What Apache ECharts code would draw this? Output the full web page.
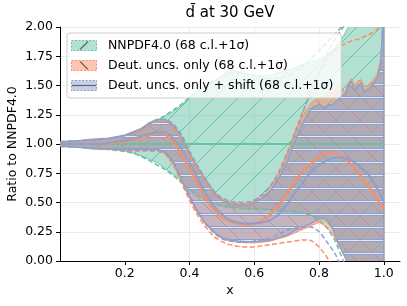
<!DOCTYPE html>
<html><head><meta charset="utf-8">
<script src="https://cdn.jsdelivr.net/npm/echarts@6/dist/echarts.min.js"></script>
<style>html,body{margin:0;padding:0;background:#fff}#c{width:407px;height:306px}</style>
</head><body><div id="c"></div>
<script>
// ---------- data ----------
const X = [0,0.025,0.05,0.075,0.1,0.125,0.15,0.175,0.2,0.225,0.25,0.275,0.3,0.325,0.35,0.375,0.4,0.425,0.45,0.475,0.5,0.525,0.55,0.575,0.6,0.625,0.65,0.675,0.7,0.725,0.75,0.775,0.8,0.825,0.85,0.875,0.9,0.925,0.95,0.975,1.0];

const NNPDF_CV = [1,1,1,1,1,1,1,1,1,1,1,1,1,1,1,1,1,1,1,1,1,1,1,1,1,1,1,1,1,1,1,1,1,1,1,1,1,1,1,1,1];
const DEUT_CV = [1.0,1.0,1.0,1.0,1.0,1.0,1.005,1.01,1.02,1.035,1.05,1.07,1.09,1.08,1.02,0.91,0.79,0.66,0.53,0.44,0.37,0.34,0.32,0.31,0.32,0.35,0.40,0.48,0.57,0.68,0.77,0.83,0.89,0.93,0.92,0.88,0.82,0.74,0.65,0.55,0.44];
const SHIFT_CV = [1.0,1.0,1.0,1.0,1.0,1.0,1.01,1.02,1.03,1.045,1.065,1.085,1.10,1.10,1.05,0.96,0.84,0.71,0.58,0.47,0.40,0.35,0.33,0.32,0.32,0.33,0.35,0.40,0.48,0.58,0.67,0.76,0.82,0.86,0.885,0.88,0.86,0.81,0.75,0.64,0.51];

// NNPDF4.0 68% c.l. band
const NNPDF_HI = [1.02,1.022,1.025,1.03,1.035,1.04,1.045,1.055,1.07,1.09,1.12,1.16,1.20,1.24,1.28,1.33,1.40,1.45,1.50,1.54,1.58,1.64,1.62,1.60,1.59,1.58,1.59,1.61,1.63,1.65,1.68,1.70,1.72,1.76,1.82,1.92,2.05,2.2,2.35,2.5,2.7];
const NNPDF_LO = [0.98,0.978,0.975,0.97,0.965,0.96,0.955,0.95,0.94,0.925,0.90,0.87,0.84,0.79,0.74,0.68,0.62,0.57,0.52,0.49,0.47,0.46,0.455,0.45,0.45,0.445,0.44,0.435,0.43,0.42,0.41,0.39,0.37,0.33,0.25,0.12,-0.05,-0.4,-0.8,-1.2,-1.6];
// NNPDF4.0 1 sigma
const NNPDF_SD_HI = [1.02,1.022,1.025,1.03,1.035,1.04,1.047,1.057,1.07,1.09,1.12,1.16,1.20,1.245,1.29,1.34,1.40,1.45,1.50,1.54,1.57,1.60,1.61,1.60,1.58,1.57,1.56,1.56,1.58,1.62,1.67,1.73,1.80,1.87,1.94,2.02,2.12,2.22,2.35,2.5,2.7];
const NNPDF_SD_LO = [0.98,0.978,0.975,0.97,0.965,0.96,0.953,0.945,0.935,0.92,0.895,0.86,0.82,0.78,0.73,0.67,0.61,0.56,0.52,0.49,0.47,0.46,0.45,0.445,0.44,0.437,0.433,0.43,0.425,0.42,0.41,0.39,0.35,0.28,0.17,0.0,-0.2,-0.45,-0.7,-1.0,-1.3];
// Deut. uncs. only 1 sigma
const DEUT_SD_HI = [1.02,1.022,1.025,1.03,1.035,1.04,1.045,1.055,1.07,1.09,1.12,1.16,1.19,1.19,1.14,1.04,0.91,0.79,0.68,0.59,0.53,0.50,0.49,0.49,0.51,0.56,0.64,0.76,0.92,1.10,1.28,1.45,1.60,1.72,1.80,1.85,1.88,1.90,1.93,1.97,2.05];
const DEUT_SD_LO = [0.98,0.978,0.975,0.97,0.965,0.96,0.955,0.95,0.945,0.94,0.94,0.94,0.935,0.91,0.82,0.67,0.52,0.39,0.29,0.21,0.165,0.14,0.125,0.12,0.12,0.13,0.14,0.15,0.16,0.17,0.18,0.175,0.12,0.03,-0.1,-0.3,-0.5,-0.8,-1.1,-1.4,-1.7];
// Deut. uncs. only + shift 1 sigma
const SHIFT_SD_HI = [1.02,1.022,1.025,1.03,1.035,1.04,1.047,1.057,1.075,1.10,1.13,1.17,1.21,1.21,1.17,1.08,0.94,0.81,0.70,0.60,0.54,0.51,0.50,0.50,0.52,0.57,0.64,0.75,0.90,1.08,1.27,1.45,1.62,1.77,1.90,2.0,2.1,2.2,2.3,2.4,2.5];
const SHIFT_SD_LO = [0.98,0.978,0.975,0.97,0.965,0.96,0.955,0.952,0.95,0.948,0.947,0.946,0.945,0.93,0.84,0.70,0.56,0.43,0.32,0.24,0.19,0.17,0.16,0.16,0.17,0.18,0.20,0.23,0.26,0.28,0.29,0.29,0.25,0.16,0.06,-0.1,-0.3,-0.6,-0.9,-1.2,-1.5];

// 68% c.l. bands of the deuteron fits
const BAND_HI_X = [0,0.05,0.1,0.15,0.2,0.25,0.275,0.3,0.325,0.35,0.375,0.4,0.425,0.45,0.475,0.5,0.525,0.55,0.575,0.6,0.625,0.65,0.675,0.7,0.725,0.75,0.775,0.8,0.81,0.82,0.83,0.84,0.85,0.86,0.87,0.88,0.89,0.9,0.91,0.92,0.93,0.94,0.95,0.96,0.97,0.98,0.99,0.995,1.0];
const DEUT_HI = [1.02,1.025,1.035,1.045,1.07,1.12,1.16,1.19,1.19,1.14,1.03,0.89,0.77,0.66,0.57,0.51,0.48,0.47,0.47,0.49,0.54,0.61,0.73,0.89,1.08,1.24,1.35,1.40,1.38,1.42,1.45,1.43,1.47,1.52,1.48,1.44,1.52,1.56,1.50,1.54,1.55,1.49,1.50,1.53,1.56,1.60,1.72,1.95,2.4];
const SHIFT_HI = [1.02,1.025,1.04,1.05,1.075,1.13,1.18,1.21,1.21,1.16,1.06,0.92,0.80,0.69,0.59,0.52,0.49,0.48,0.48,0.50,0.54,0.60,0.70,0.84,1.02,1.18,1.30,1.34,1.32,1.31,1.34,1.33,1.36,1.38,1.42,1.41,1.50,1.53,1.46,1.50,1.52,1.44,1.46,1.48,1.52,1.57,1.66,1.9,2.4];
const BAND_LO_X = [0,0.05,0.1,0.15,0.2,0.25,0.3,0.325,0.35,0.375,0.4,0.425,0.45,0.475,0.5,0.525,0.55,0.575,0.6,0.625,0.65,0.675,0.7,0.725,0.75,0.775,0.8,0.82,0.84,0.86,0.88,0.9,0.92,0.95,1.0];
const DEUT_LO = [0.98,0.975,0.96,0.955,0.95,0.95,0.95,0.92,0.83,0.69,0.54,0.41,0.31,0.24,0.19,0.17,0.16,0.155,0.155,0.16,0.17,0.19,0.21,0.24,0.27,0.30,0.33,0.30,0.24,0.14,0.03,-0.1,-0.4,-0.8,-1.5];
const SHIFT_LO = [0.98,0.975,0.96,0.955,0.955,0.955,0.955,0.93,0.85,0.70,0.55,0.42,0.32,0.25,0.20,0.18,0.17,0.165,0.165,0.17,0.18,0.20,0.22,0.26,0.29,0.32,0.36,0.37,0.29,0.15,0.04,-0.1,-0.4,-0.8,-1.5];

const X_TICKS = [0.2,0.4,0.6,0.8,1.0];
const NAMES = ['NNPDF4.0 (68 c.l.+1σ)', 'Deut. uncs. only (68 c.l.+1σ)', 'Deut. uncs. only + shift (68 c.l.+1σ)'];
const TITLE = 'd\u0304 at 30 GeV';

// ---------- styling helpers ----------
const G = '#66c2a5', O = '#fc8d62', B = '#8da0cb';
const G_A = 'rgba(102,194,165,0.5)', O_A = 'rgba(252,141,98,0.5)', B_A = 'rgba(141,160,203,0.5)';
const FONT = 'DejaVu Sans';
const FS = 12.5;

function hatchCanvas(kind, bg) {
  const s = kind === '-' ? 13 : 24;
  const c = document.createElement('canvas'); c.width = s; c.height = s;
  const g = c.getContext('2d');
  g.fillStyle = bg; g.fillRect(0, 0, s, s);
  g.lineCap = 'butt';
  if (kind === '/') {
    g.strokeStyle = G; g.lineWidth = 1;
    g.beginPath();
    g.moveTo(-2, s + 2); g.lineTo(s + 2, -2);
    g.moveTo(-2, 2); g.lineTo(2, -2);
    g.moveTo(s - 2, s + 2); g.lineTo(s + 2, s - 2);
    g.stroke();
  } else if (kind === '\\') {
    g.strokeStyle = 'rgba(240,120,90,0.9)'; g.lineWidth = 1;
    g.beginPath();
    g.moveTo(-2, -2); g.lineTo(s + 2, s + 2);
    g.moveTo(s - 2, -2); g.lineTo(s + 2, 2);
    g.moveTo(-2, s - 2); g.lineTo(2, s + 2);
    g.stroke();
  } else {
    g.strokeStyle = 'rgba(141,160,203,0.95)'; g.lineWidth = 3;
    g.beginPath(); g.moveTo(0, 6.5); g.lineTo(s, 6.5); g.stroke();
    g.strokeStyle = 'rgba(232,236,250,0.95)'; g.lineWidth = 1;
    g.beginPath(); g.moveTo(0, 6.5); g.lineTo(s, 6.5); g.stroke();
  }
  return c;
}

function legendIcon(bg, edge, kind) {
  const w = 26, h = 11;
  const c = document.createElement('canvas'); c.width = w; c.height = h;
  const g = c.getContext('2d');
  g.fillStyle = bg; g.fillRect(0.5, 0.5, w - 1, h - 1);
  g.setLineDash([2, 1.5]); g.strokeStyle = edge; g.lineWidth = 1;
  g.strokeRect(0.5, 0.5, w - 1, h - 1);
  g.setLineDash([]); g.strokeStyle = '#666'; g.lineWidth = 1.2;
  g.beginPath();
  if (kind === '/') { g.moveTo(9, 9.5); g.lineTo(17, 1.5); }
  else if (kind === '\\') { g.moveTo(9, 1.5); g.lineTo(17, 9.5); }
  else { g.moveTo(1, 5.5); g.lineTo(w - 1, 5.5); }
  g.stroke();
  return 'image://' + c.toDataURL();
}

function pairs(xs, ys) { return xs.map((x, i) => [x, ys[i]]); }

function band(name, hiX, hiY, loX, loY, fill, stroke, lw) {
  return {
    type: 'custom', name, z: 1, clip: true, silent: true, animation: false,
    data: [[hiX[0], hiY[0]]],
    renderItem(params, api) {
      const pts = [];
      for (let i = 0; i < hiX.length; i++) pts.push(api.coord([hiX[i], hiY[i]]));
      for (let i = loX.length - 1; i >= 0; i--) pts.push(api.coord([loX[i], loY[i]]));
      return { type: 'polygon', shape: { points: pts }, style: { fill, stroke, lineWidth: lw } };
    }
  };
}

function line(xs, ys, color, width, dashed, z) {
  return {
    type: 'line', data: pairs(xs, ys), showSymbol: false, symbol: 'none', smooth: 0.2,
    z, silent: true, animation: false, clip: true,
    lineStyle: { color, width, type: dashed ? [5, 2.5] : 'solid' },
    itemStyle: { color }, emphasis: { disabled: true }
  };
}

const chart = echarts.init(document.getElementById('c'), null, { renderer: 'canvas' });
const pat = k => ({ image: hatchCanvas(k, k === '/' ? G_A : k === '\\' ? O_A : B_A), repeat: 'repeat' });

chart.setOption({
  animation: false,
  backgroundColor: '#fff',
  graphic: [{
    type: 'text', x: 230, y: 6, z: 10,
    style: { text: TITLE, fontSize: 15, fontFamily: FONT, fill: '#000', align: 'center', verticalAlign: 'top' }
  }],
  grid: { left: 60, right: 7, top: 27, bottom: 45, outerBoundsMode: 'none' },
  xAxis: {
    type: 'value', min: 0, max: 1.05, interval: 0.2,
    axisLine: { show: true, onZero: false, lineStyle: { color: '#000', width: 1 } },
    axisTick: { show: true, length: 4, customValues: X_TICKS, lineStyle: { color: '#000' } },
    axisLabel: { customValues: X_TICKS, formatter: v => v.toFixed(1),
      fontSize: FS, fontFamily: FONT, color: '#000', margin: 6 },
    splitLine: { show: true, showMinLine: false, showMaxLine: false, lineStyle: { color: '#ebebeb', width: 1 } },
    name: 'x', nameLocation: 'middle', nameGap: 23, nameMoveOverlap: false,
    nameTextStyle: { fontSize: FS, fontFamily: FONT, color: '#000' }
  },
  yAxis: {
    type: 'value', min: 0, max: 2, interval: 0.25,
    axisLine: { show: true, lineStyle: { color: '#000', width: 1 } },
    axisTick: { show: true, length: 4, lineStyle: { color: '#000' } },
    axisLabel: { formatter: v => v.toFixed(2), fontSize: FS, fontFamily: FONT, color: '#000', margin: 7 },
    splitLine: { show: true, lineStyle: { color: '#ebebeb', width: 1 } },
    name: 'Ratio to NNPDF4.0', nameLocation: 'middle', nameGap: 41, nameMoveOverlap: false,
    nameTextStyle: { fontSize: FS, fontFamily: FONT, color: '#000' }
  },
  legend: {
    orient: 'vertical', left: 67, top: 33, padding: [6, 8, 6, 4], itemGap: 7,
    itemWidth: 26, itemHeight: 11, selectedMode: false,
    backgroundColor: 'rgba(255,255,255,0.8)', borderColor: '#cccccc', borderWidth: 1, borderRadius: 3,
    textStyle: { fontSize: FS, fontFamily: FONT, color: '#000', padding: [0, 0, 0, 6] },
    data: [
      { name: NAMES[0], icon: legendIcon(G_A, G, '/') },
      { name: NAMES[1], icon: legendIcon(O_A, O, '\\') },
      { name: NAMES[2], icon: legendIcon(B_A, B, '-') }
    ]
  },
  series: [
    band(NAMES[0], X, NNPDF_HI, X, NNPDF_LO, pat('/'), 'rgba(102,194,165,0.9)', 1),
    band(NAMES[1], BAND_HI_X, DEUT_HI, BAND_LO_X, DEUT_LO, pat('\\'), 'rgba(252,141,98,0.9)', 1),
    band(NAMES[2], BAND_HI_X, SHIFT_HI, BAND_LO_X, SHIFT_LO, pat('-'), B, 1.5),
    line(X, NNPDF_SD_HI, G, 1.5, true, 3),
    line(X, NNPDF_SD_LO, G, 1.5, true, 3),
    line(X, DEUT_SD_HI, O, 1.5, true, 3),
    line(X, DEUT_SD_LO, O, 1.5, true, 3),
    line(X, SHIFT_SD_HI, B, 1.5, true, 3),
    line(X, SHIFT_SD_LO, B, 1.5, true, 3),
    line(X, NNPDF_CV, G, 2, false, 4),
    line(X, DEUT_CV, O, 2, false, 4),
    line(X, SHIFT_CV, B, 2, false, 4)
  ]
});
</script>
</body></html>
